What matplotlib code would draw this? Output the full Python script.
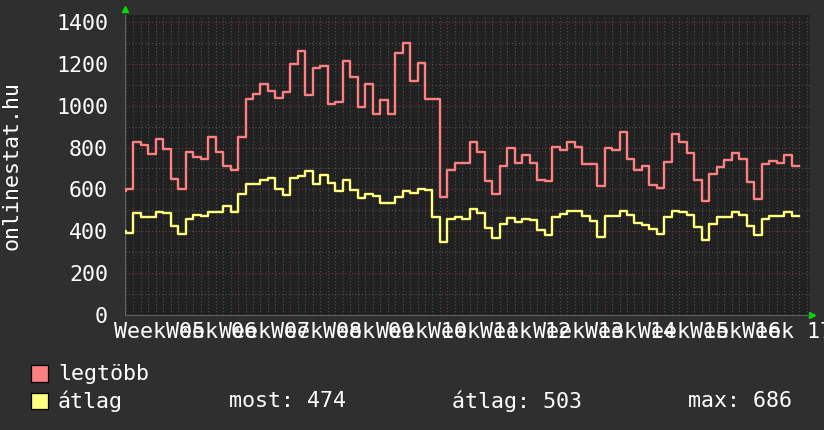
import numpy as np
import matplotlib
matplotlib.use("Agg")
import matplotlib.pyplot as plt
from matplotlib.ticker import MultipleLocator
from matplotlib.patches import Rectangle

# ---- data (daily values, day 0 = start of Week 05) ----
days = list(range(-2, 89))
legtobb = [591, 604,
           827, 814, 768, 843, 795, 649, 601,
           779, 755, 744, 851, 779, 711, 692,
           851, 1030, 1054, 1102, 1070, 1037, 1065,
           1200, 1261, 1049, 1180, 1189, 1010, 1018,
           1213, 1137, 994, 1102, 959, 1029, 959,
           1251, 1299, 1118, 1204, 1032, 1032, 564,
           692, 727, 727, 825, 779, 641, 576,
           712, 798, 727, 763, 727, 644, 641,
           803, 790, 825, 803, 720, 720, 615,
           798, 787, 874, 746, 692, 712, 620,
           607, 731, 867, 827, 774, 644, 544,
           673, 708, 739, 774, 744, 634, 553,
           720, 736, 727, 766, 712]
atlag = [400, 390,
         485, 469, 469, 493, 485, 426, 386,
         458, 477, 472, 490, 493, 521, 493,
         577, 628, 625, 644, 655, 604, 572,
         655, 665, 686, 625, 671, 633, 591,
         644, 598, 561, 577, 569, 533, 537,
         564, 593, 584, 601, 596, 469, 350,
         461, 466, 461, 507, 488, 417, 369,
         437, 464, 445, 458, 453, 405, 382,
         469, 482, 498, 498, 472, 448, 372,
         472, 472, 498, 477, 440, 429, 413,
         386, 466, 498, 490, 480, 421, 358,
         434, 466, 466, 493, 480, 424, 380,
         461, 472, 472, 490, 474]
week_labels = ["Week %02d" % w for w in range(5, 18)]
y_ticks = [0, 200, 400, 600, 800, 1000, 1200, 1400]
legend_names = ["legtöbb", "átlag"]
stats_text = ["most: 474", "átlag: 503", "max: 686"]

# ---- style ----
W, H = 824, 430
BG = "#2f2f2f"
PLOT_BG = "#212121"
RED = "#ff8080"
YEL = "#ffff80"
FONT = "DejaVu Sans Mono"
FS = 15.6

fig = plt.figure(figsize=(W / 100, H / 100), dpi=100, facecolor=BG)
L, R, T, B = 124.7, 810, 14.7, 315
ax = fig.add_axes([L / W, 1 - B / H, (R - L) / W, (B - T) / H])
ax.set_facecolor(PLOT_BG)

day_w = 7.48
xmin = -(133.3 - L) / day_w
xmax = (R - 133.3) / day_w
ymax = (B - T) / 41.86 * 200
ax.set_xlim(xmin, xmax)
ax.set_ylim(0, ymax)

ax.xaxis.set_major_locator(MultipleLocator(7))
ax.xaxis.set_minor_locator(MultipleLocator(1))
ax.yaxis.set_major_locator(MultipleLocator(200))
ax.yaxis.set_minor_locator(MultipleLocator(100))
ax.grid(which="minor", color="#505050", linestyle=(0, (1, 2)), linewidth=0.8)
ax.grid(which="major", color="#703c3c", linestyle=(0, (1, 2)), linewidth=0.8)
ax.set_axisbelow(True)

ax.tick_params(axis="x", which="both", length=0, labelbottom=False)
ax.tick_params(axis="y", which="both", length=0, colors="white", pad=12)
ax.set_yticks(y_ticks)
ax.set_yticklabels([str(v) for v in y_ticks], fontfamily=FONT, fontsize=FS, color="white")

for s in ["top", "right"]:
    ax.spines[s].set_visible(False)
for s in ["left", "bottom"]:
    ax.spines[s].set_color("#606060")
    ax.spines[s].set_linewidth(0.8)

xe = np.append(days, days[-1] + 1)
ax.step(xe, np.append(legtobb, legtobb[-1]), where="post", color=RED, lw=1.7, zorder=3)
ax.step(xe, np.append(atlag, atlag[-1]), where="post", color=YEL, lw=1.7, zorder=3)

# axis arrows
ax.plot([0], [1.018], transform=ax.transAxes, marker="^", color="#00dd00",
        markersize=5, clip_on=False)
ax.plot([1.003], [0], transform=ax.transAxes, marker=">", color="#00dd00",
        markersize=5, clip_on=False)

# week labels centered on week intervals
for i, lab in enumerate(week_labels):
    ax.text(i * 7 + 3.5, -0.055, lab, transform=ax.get_xaxis_transform(),
            ha="center", va="center", fontfamily=FONT, fontsize=FS,
            color="white", clip_on=False)

# y label
fig.text(12 / W, 1 - 165 / H, "onlinestat.hu", rotation=90, ha="center",
         va="center", fontfamily=FONT, fontsize=FS, color="white")

# legend
for name, col, yc in [(legend_names[0], RED, 373.5), (legend_names[1], YEL, 401.0)]:
    fig.patches.append(Rectangle((31 / W, 1 - (yc + 8.3) / H), 16.5 / W, 16.5 / H,
                                 transform=fig.transFigure, facecolor=col,
                                 edgecolor="black", linewidth=0.9))
    fig.text(58 / W, 1 - yc / H, name, ha="left", va="center",
             fontfamily=FONT, fontsize=FS, color="white")
for txt, xs in zip(stats_text, [229, 452, 688]):
    fig.text(xs / W, 1 - 401.0 / H, txt, ha="left", va="center",
             fontfamily=FONT, fontsize=FS, color="white")

fig.savefig("out.png", dpi=100, facecolor=BG)
